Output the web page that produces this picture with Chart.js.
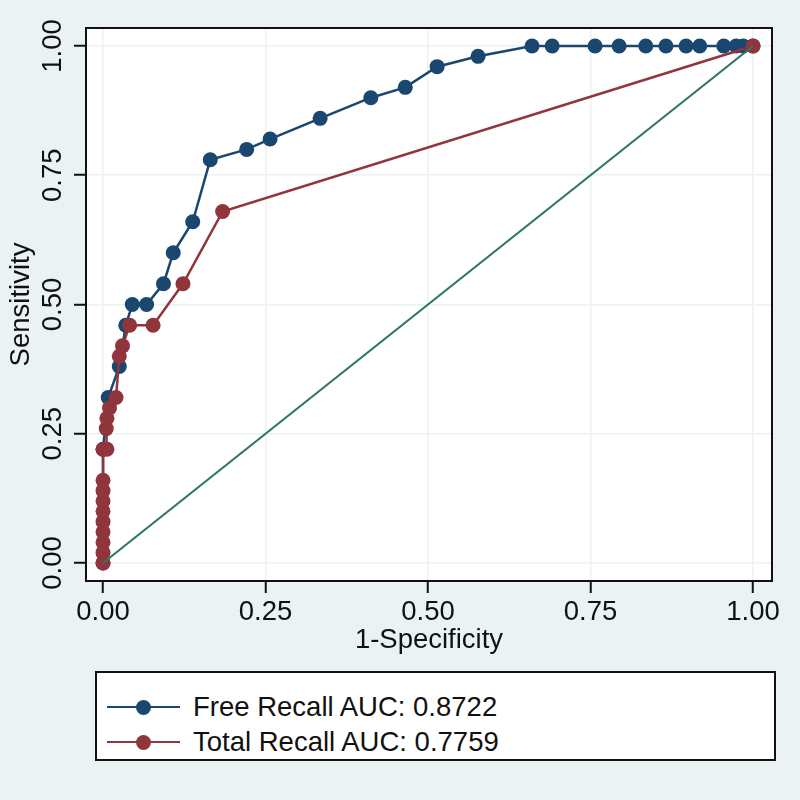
<!DOCTYPE html>
<html>
<head>
<meta charset="utf-8">
<script src="https://cdn.jsdelivr.net/npm/chart.js@4.4.1/dist/chart.umd.min.js"></script>
<style>
    html, body { margin: 0; padding: 0; background: #eaf2f3; }
    #wrap { position: relative; width: 800px; height: 800px; }
    #legend {
        position: absolute; left: 95px; top: 671px; width: 677px; height: 86px;
        background: #fff; border: 2px solid #111;
        font-family: "Liberation Sans", Arial, sans-serif; font-size: 27.5px; color: #111;
    }
    .row { position: absolute; left: 0; height: 30px; display: flex; align-items: center; }
    .sym { position: relative; width: 73px; height: 2.5px; margin-left: 10px; margin-right: 13px; }
    .sym i { position: absolute; left: 29px; top: -6px; width: 15px; height: 15px; border-radius: 50%; }
</style>
</head>
<body>
<div id="wrap">
    <canvas id="roc" width="800" height="800"></canvas>
    <div id="legend"></div>
</div>
<script>
// Dados
const tickVals = [0, 0.25, 0.5, 0.75, 1];

const freeLabel = 'Free Recall AUC: 0.8722';
const freeSpec = [0, 0, 0.008, 0.025, 0.035, 0.045, 0.067, 0.093, 0.108, 0.138, 0.165, 0.221, 0.257, 0.334,
    0.412, 0.465, 0.514, 0.577, 0.66, 0.691, 0.757, 0.794, 0.835, 0.866, 0.897, 0.918, 0.955, 0.974, 0.985, 1];
const freeSens = [0, 0.22, 0.32, 0.38, 0.46, 0.50, 0.50, 0.54, 0.60, 0.66, 0.78, 0.80, 0.82, 0.86,
    0.90, 0.92, 0.96, 0.98, 1, 1, 1, 1, 1, 1, 1, 1, 1, 1, 1, 1];

const totalLabel = 'Total Recall AUC: 0.7759';
const totalSpec = [0, 0, 0, 0, 0, 0, 0, 0, 0, 0, 0.006, 0.005, 0.006, 0.010, 0.020, 0.025, 0.030,
    0.041, 0.077, 0.123, 0.184, 1];
const totalSens = [0, 0.02, 0.04, 0.06, 0.08, 0.10, 0.12, 0.14, 0.16, 0.22, 0.22, 0.26, 0.28, 0.30, 0.32, 0.40, 0.42,
    0.46, 0.46, 0.54, 0.68, 1];

const refSpec = [0, 1];
const refSens = [0, 1];

// Cores
const blue = '#1a476f';
const red = '#90353b';
const green = '#2f7767';
const bg = '#eaf2f3';
const font = { family: '"Liberation Sans", Arial, sans-serif', size: 27.5 };

function toPoints(xs, ys) {
    return xs.map((x, i) => ({ x: x, y: ys[i] }));
}

// fundo e moldura da área do gráfico
const framePlugin = {
    id: 'frame',
    beforeDraw(chart) {
        const { ctx, chartArea: a } = chart;
        ctx.save();
        ctx.fillStyle = bg;
        ctx.fillRect(0, 0, chart.width, chart.height);
        ctx.fillStyle = '#fff';
        ctx.fillRect(a.left, a.top, a.right - a.left, a.bottom - a.top);
        ctx.restore();
    },
    afterDraw(chart) {
        const { ctx, chartArea: a } = chart;
        ctx.save();
        ctx.strokeStyle = '#111';
        ctx.lineWidth = 2;
        ctx.strokeRect(a.left, a.top, a.right - a.left, a.bottom - a.top);
        ctx.restore();
    }
};

function setTicks(scale) {
    scale.ticks = tickVals.map(v => ({ value: v }));
}

const ctx = document.getElementById('roc').getContext('2d');
new Chart(ctx, {
    type: 'scatter',
    data: {
        datasets: [
            {
                label: freeLabel, data: toPoints(freeSpec, freeSens), order: 2,
                showLine: true, borderColor: blue, backgroundColor: blue, borderWidth: 2.5,
                pointRadius: 7.5, pointBorderWidth: 0
            },
            {
                label: totalLabel, data: toPoints(totalSpec, totalSens), order: 1,
                showLine: true, borderColor: red, backgroundColor: red, borderWidth: 2.5,
                pointRadius: 7.5, pointBorderWidth: 0
            },
            {
                label: 'ref', data: toPoints(refSpec, refSens), order: 0,
                showLine: true, borderColor: green, borderWidth: 2.2, pointRadius: 0
            }
        ]
    },
    options: {
        responsive: false,
        animation: false,
        layout: { padding: { left: 0, top: 28, right: 28, bottom: 0 } },
        plugins: { legend: { display: false }, tooltip: { enabled: false } },
        scales: {
            x: {
                type: 'linear', min: -0.0262, max: 1.0292,
                afterBuildTicks: setTicks,
                afterFit(scale) { scale.height = 219; },
                grid: { color: bg, lineWidth: 1.5, tickLength: 12, tickColor: '#111', tickWidth: 2 },
                border: { display: false },
                ticks: { color: '#111', font: font, padding: 3, maxRotation: 0,
                    callback: v => v.toFixed(2) },
                title: { display: true, text: '1-Specificity', color: '#111', font: font,
                    padding: { top: 0, bottom: 143 } }
            },
            y: {
                type: 'linear', min: -0.0348, max: 1.0348,
                afterBuildTicks: setTicks,
                afterFit(scale) { scale.width = 86; },
                grid: { color: bg, lineWidth: 1.5, tickLength: 12, tickColor: '#111', tickWidth: 2 },
                border: { display: false },
                ticks: { color: '#111', font: font, padding: -6, minRotation: 90, maxRotation: 90,
                    crossAlign: 'center', callback: v => v.toFixed(2) },
                title: { display: true, text: 'Sensitivity', color: '#111', font: font,
                    padding: { top: 5, bottom: 0 } }
            }
        }
    },
    plugins: [framePlugin]
});

// Legenda em HTML
const legendItems = [
    { label: freeLabel, color: blue },
    { label: totalLabel, color: red }
];
const legend = document.getElementById('legend');
legendItems.forEach((item, i) => {
    const row = document.createElement('div');
    row.className = 'row';
    row.style.top = (19 + i * 35) + 'px';
    row.innerHTML = `<span class="sym" style="background:${item.color}"><i style="background:${item.color}"></i></span><span>${item.label}</span>`;
    legend.appendChild(row);
});
</script>
</body>
</html>
